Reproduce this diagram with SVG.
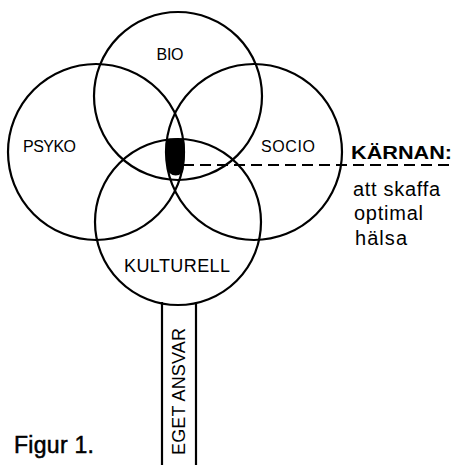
<svg xmlns="http://www.w3.org/2000/svg" width="454" height="465" viewBox="0 0 454 465">
<style>
.c{fill:none;stroke:#000;stroke-width:2.2}
.t{font-family:"Liberation Sans",Arial,sans-serif;fill:#000}
.l{font-size:16px}
.b{font-size:20px}
</style>
<rect width="454" height="465" fill="#fff"/>
<g id="karna">
<path d="M167,140 Q176,137 184,140 Q186,156 183,172 Q176,179 168,172 Q165,156 167,140 Z" fill="#000"/>
</g>
<g id="bio"><circle class="c" cx="178" cy="96" r="84"/><text class="t l" x="170" y="60" text-anchor="middle" textLength="27">BIO</text></g>
<g id="psyko"><circle class="c" cx="96" cy="152" r="88"/><text class="t l" x="23" y="152" textLength="53">PSYKO</text></g>
<g id="socio"><circle class="c" cx="254" cy="152" r="88"/><text class="t l" x="261" y="152" textLength="54">SOCIO</text></g>
<g id="kulturell"><circle class="c" cx="178" cy="222" r="83"/><text class="t" font-size="18" x="124" y="272" textLength="106">KULTURELL</text></g>
<g id="stem">
<line x1="162" y1="302" x2="162" y2="465" stroke="#000" stroke-width="2.2"/>
<line x1="196" y1="302" x2="196" y2="465" stroke="#000" stroke-width="2.2"/>
<text class="t" font-size="18" transform="translate(185,455) rotate(-90)" textLength="127">EGET ANSVAR</text>
</g>
<g id="connectors">
<line x1="183" y1="165" x2="454" y2="165" stroke="#000" stroke-width="2" stroke-dasharray="11 6"/>
</g>
<g id="karnan">
<text class="t" font-size="19" font-weight="bold" x="351" y="159" textLength="101" lengthAdjust="spacingAndGlyphs">KÄRNAN:</text>
<text class="t b" x="353" y="196" textLength="87">att skaffa</text>
<text class="t b" x="354" y="220" textLength="69">optimal</text>
<text class="t b" x="355" y="245" textLength="52">hälsa</text>
</g>
<text class="t" font-size="23" x="14" y="453" stroke="#000" stroke-width="0.5" textLength="80">Figur 1.</text>
</svg>
